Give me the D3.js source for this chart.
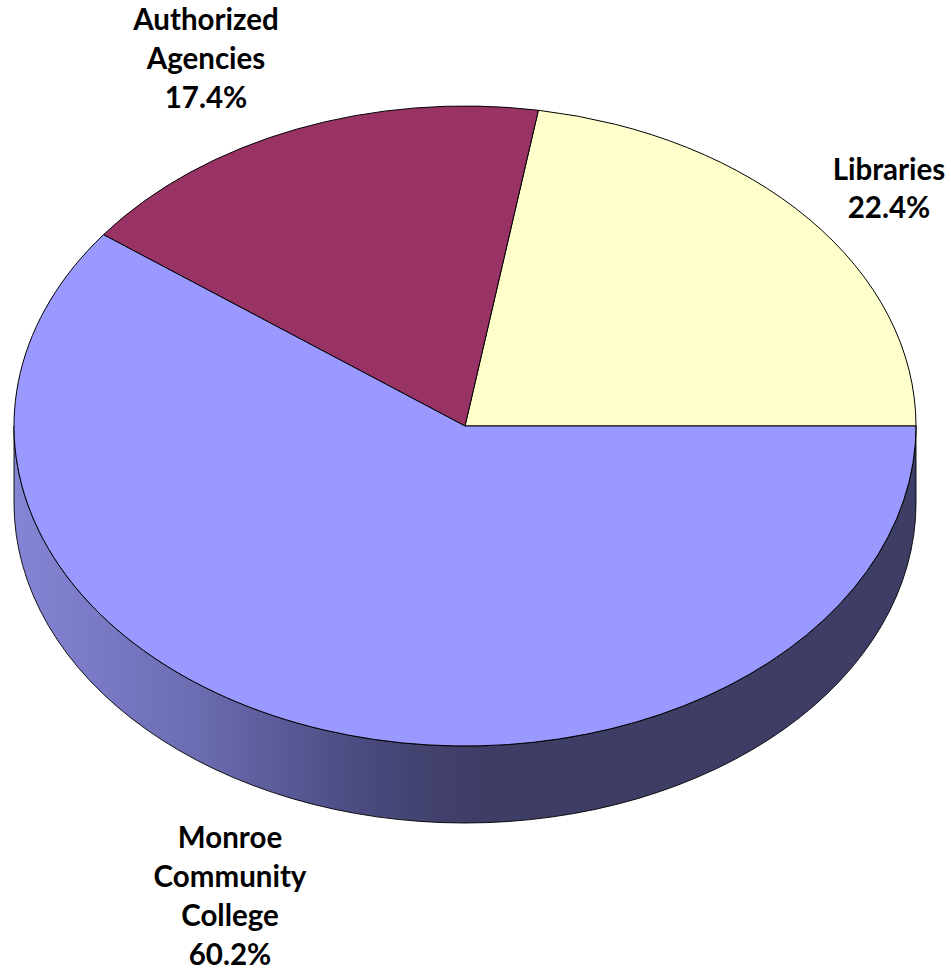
<!DOCTYPE html>
<html>
<head>
<meta charset="utf-8">
<script src="https://cdn.jsdelivr.net/npm/d3@7"></script>
<style>
  html, body { margin: 0; padding: 0; background: #fff; }
  svg { display: block; }
  text { font-family: Lato, "Open Sans", sans-serif; font-weight: 700; font-size: 29.5px; fill: #000; text-anchor: middle; }
</style>
</head>
<body>
<div id="chart"></div>
<script>
const categories = ["Libraries", "Authorized Agencies", "Monroe Community College"];
const shares = [22.4, 17.4, 60.2];
const sliceColors = ["#ffffcc", "#993366", "#9999ff"];
const labelLines = [
  ["Libraries", "22.4%"],
  ["Authorized", "Agencies", "17.4%"],
  ["Monroe", "Community", "College", "60.2%"]
];
const labelAnchors = [
  { x: 889, y: 180, step: 38 },
  { x: 206, y: 30, step: 39 },
  { x: 230, y: 848, step: 39 }
];

const width = 951, height = 971;
const cx = 465, cy = 426, rx = 451, ry = 320, depth = 77;

const svg = d3.select("#chart").append("svg")
  .attr("width", width).attr("height", height);

// Side wall shading runs from a lit left edge to a shadowed front and right.
const gradient = svg.append("defs").append("linearGradient")
  .attr("id", "wall")
  .attr("gradientUnits", "userSpaceOnUse")
  .attr("x1", cx - rx).attr("x2", cx + rx)
  .attr("y1", 0).attr("y2", 0);
[[0, "#8585d6"], [0.2, "#6c6cb2"], [0.32, "#565692"], [0.4, "#48487c"], [0.47, "#41416c"], [0.52, "#3d3d66"], [1, "#3d3d66"]]
  .forEach(([o, c]) => gradient.append("stop").attr("offset", o).attr("stop-color", c));

// Wall: lower half of the rim, extruded downward.
svg.append("path")
  .attr("d", `M${cx - rx},${cy} L${cx - rx},${cy + depth}
    A${rx},${ry} 0 0 0 ${cx + rx},${cy + depth}
    L${cx + rx},${cy}
    A${rx},${ry} 0 0 1 ${cx - rx},${cy} Z`)
  .attr("fill", "url(#wall)")
  .attr("stroke", "#000")
  .attr("stroke-width", 0.9)
  .attr("stroke-linejoin", "round");

// Pie runs counterclockwise from three o'clock.
const pie = d3.pie().sort(null)
  .startAngle(Math.PI / 2)
  .endAngle(Math.PI / 2 - 2 * Math.PI);
const arc = d3.arc().innerRadius(0).outerRadius(rx);

svg.append("g")
  .attr("transform", `translate(${cx},${cy}) scale(1,${ry / rx})`)
  .selectAll("path")
  .data(pie(shares))
  .join("path")
  .attr("d", arc)
  .attr("fill", (d, i) => sliceColors[i])
  .attr("stroke", "#000")
  .attr("stroke-width", 1)
  .attr("stroke-linejoin", "round")
  .attr("vector-effect", "non-scaling-stroke")
  .append("title").text((d, i) => categories[i]);

// Labels: category name, then its share.
const labels = svg.append("g").selectAll("text")
  .data(labelLines.map((lines, i) => lines.map(line => ({ line, step: labelAnchors[i].step }))))
  .join("text")
  .attr("transform", (d, i) => `translate(${labelAnchors[i].x},${labelAnchors[i].y})`);
labels.selectAll("tspan")
  .data(d => d)
  .join("tspan")
  .attr("x", 0)
  .attr("y", (d, i) => i * d.step)
  .text(d => d.line);
</script>
</body>
</html>
